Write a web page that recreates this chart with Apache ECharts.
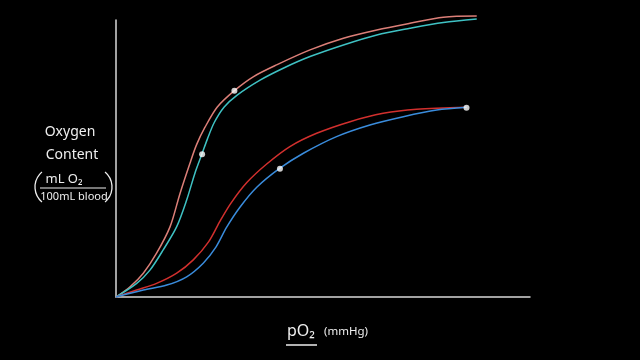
<!DOCTYPE html>
<html>
<head>
<meta charset="utf-8">
<style>
html,body{margin:0;padding:0;background:#000;}
#chart{width:640px;height:360px;}
</style>
<script src="https://cdn.jsdelivr.net/npm/echarts@6/dist/echarts.min.js"></script>
</head>
<body>
<div id="chart"></div>
<script>
// pO2 (mmHg) vs oxygen content, hand-drawn style
const upperRed = [[0,0],[5.1,3.7],[9.9,8.6],[14.7,15.8],[19.6,25.4],[23.2,37.4],[26.8,48.3],[29.2,55.0],[32.2,61.2],[36.7,68.6],[42.9,74.5],[49.7,79.5],[58.2,83.8],[70.3,89.2],[82.4,93.4],[94.5,96.4],[106.5,98.8],[118.6,101.0],[130.7,101.4]];
const upperCyan = [[0,0],[7.5,4.9],[12.3,9.7],[17.1,17.0],[22.0,25.4],[25.6,35.0],[28.6,44.7],[31.1,51.5],[33.1,57.0],[35.6,63.0],[39.2,68.6],[43.9,72.9],[52.2,78.3],[60.6,82.6],[70.3,86.8],[82.4,91.0],[94.5,94.6],[106.5,97.0],[118.6,99.1],[130.7,100.4]];
const lowerRed = [[0,0],[7.5,2.5],[14.7,4.9],[22.0,8.6],[28.0,13.4],[33.6,20.0],[37.7,27.4],[41.6,33.8],[47.4,41.3],[54.6,48.0],[63.0,54.3],[72.7,59.1],[84.8,63.3],[96.8,66.3],[108.9,67.8],[127.0,68.5]];
const lowerBlue = [[0,0],[9.9,2.5],[18.4,4.3],[25.6,7.3],[31.6,12.2],[36.2,18.0],[40.1,25.2],[44.9,32.4],[51.0,39.6],[59.4,46.5],[67.9,51.9],[79.9,57.9],[92.0,62.1],[104.1,65.1],[116.2,67.5],[127.0,68.5]];
const markedPoints = [[42.9,74.5],[31.2,51.5],[59.4,46.3],[127.0,68.3]];

const yTitle1 = 'Oxygen';
const yTitle2 = 'Content';
const yUnitTop = 'mL O₂';
const yUnitBottom = '100mL blood';
const xTitleMain = 'pO₂';
const xTitleUnit = '(mmHg)';

const chart = echarts.init(document.getElementById('chart'));
const font = '"Noto Sans", sans-serif';
const ink = '#eeeeee';
function lineSeries(data, color) {
  return {
    type: 'line', data: data, smooth: 0.3, showSymbol: false, clip: false,
    lineStyle: {color: color, width: 1.5}, silent: true
  };
}
const pr = 19.6, pa = 0.87;
chart.setOption({
  backgroundColor: '#000',
  animation: false,
  grid: {left: 116, right: 110, top: 20, bottom: 63},
  xAxis: {
    type: 'value', min: 0, max: 150,
    axisLine: {show: true, lineStyle: {color: '#d8d8d8', width: 1.5}},
    axisTick: {show: false}, axisLabel: {show: false}, splitLine: {show: false}
  },
  yAxis: {
    type: 'value', min: 0, max: 100,
    axisLine: {show: true, lineStyle: {color: '#d8d8d8', width: 1.5}},
    axisTick: {show: false}, axisLabel: {show: false}, splitLine: {show: false}
  },
  series: [
    lineSeries(upperRed, '#dc7f78'),
    lineSeries(upperCyan, '#3fc2c4'),
    lineSeries(lowerRed, '#d2302e'),
    lineSeries(lowerBlue, '#3a8cdc'),
    {type: 'scatter', data: markedPoints, symbolSize: 6, clip: false, z: 5,
     itemStyle: {color: '#ffffff'}, silent: true}
  ],
  graphic: [
    {type: 'text', x: 70, y: 132, style: {text: yTitle1, fill: ink, font: '14px ' + font, align: 'center', verticalAlign: 'middle'}},
    {type: 'text', x: 72, y: 155, style: {text: yTitle2, fill: ink, font: '14px ' + font, align: 'center', verticalAlign: 'middle'}},
    {type: 'text', x: 64, y: 179, style: {text: yUnitTop, fill: ink, font: '13px ' + font, align: 'center', verticalAlign: 'middle'}},
    {type: 'line', shape: {x1: 40, y1: 188, x2: 106, y2: 188}, style: {stroke: ink, lineWidth: 1.2}},
    {type: 'text', x: 74, y: 197, style: {text: yUnitBottom, fill: ink, font: '11px ' + font, align: 'center', verticalAlign: 'middle'}},
    {type: 'arc', shape: {cx: 35 + pr, cy: 187, r: pr, startAngle: Math.PI - pa, endAngle: Math.PI + pa, clockwise: true}, style: {stroke: ink, lineWidth: 1.3, fill: null}},
    {type: 'arc', shape: {cx: 112 - pr, cy: 187, r: pr, startAngle: -pa, endAngle: pa, clockwise: true}, style: {stroke: ink, lineWidth: 1.3, fill: null}},
    {type: 'text', x: 301, y: 331, style: {text: xTitleMain, fill: ink, font: '16px ' + font, align: 'center', verticalAlign: 'middle'}},
    {type: 'text', x: 346, y: 332, style: {text: xTitleUnit, fill: ink, font: '11.5px ' + font, align: 'center', verticalAlign: 'middle'}},
    {type: 'line', shape: {x1: 286, y1: 345, x2: 317, y2: 345}, style: {stroke: ink, lineWidth: 1.5}}
  ]
});
</script>
</body>
</html>
